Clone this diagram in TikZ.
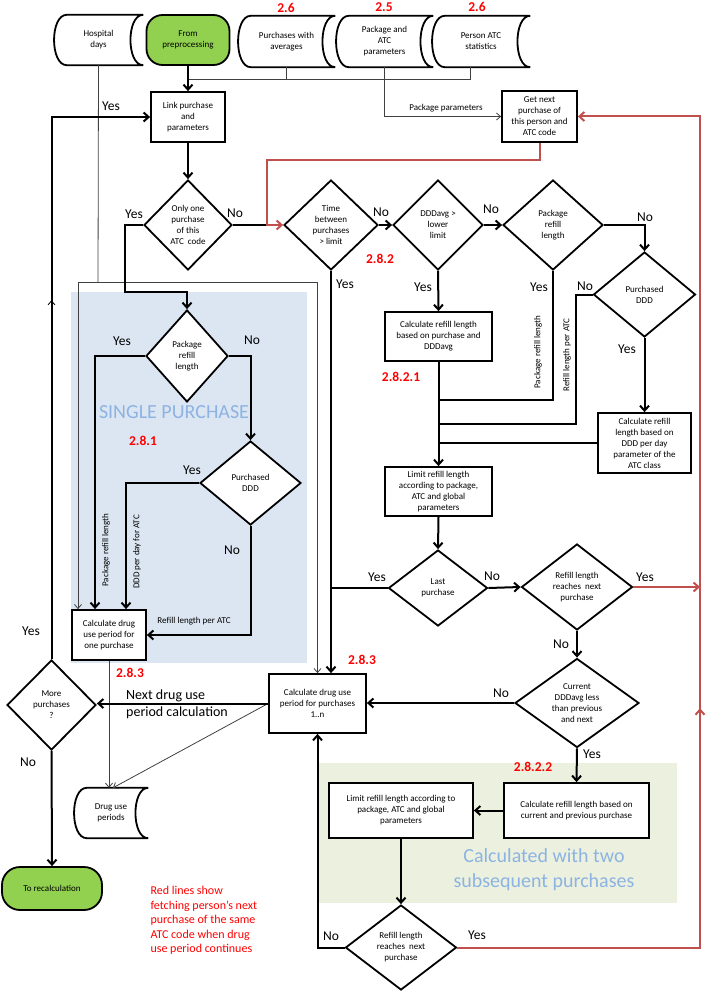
\documentclass[tikz,border=0pt]{standalone}
\usepackage{fontspec}
\setmainfont{Carlito}
\usetikzlibrary{arrows.meta,shapes.geometric,decorations.markings}

\definecolor{termgreen}{RGB}{146,208,80}
\definecolor{linered}{RGB}{192,80,77}
\definecolor{bluebg}{RGB}{220,230,242}
\definecolor{greenbg}{RGB}{235,241,222}
\definecolor{bluetext}{RGB}{141,179,226}

\newcommand\bxfont{\fontsize{9}{11}\selectfont}
\newcommand\ynfont{\fontsize{13.5}{15}\selectfont}
\newcommand\secfont{\fontsize{13.5}{15}\selectfont\bfseries}

\tikzset{
  box/.style={draw, line width=1.8pt, fill=white, align=center, inner sep=1pt, font=\bxfont},
  decision/.style={diamond, draw, line width=1.8pt, fill=white, align=center, inner sep=0pt, font=\bxfont},
  store/.style={align=center, inner sep=0pt, font=\bxfont},
  term/.style={draw, line width=1.8pt, rounded corners=16pt, fill=termgreen, align=center, font=\bxfont},
  flow/.style={line width=2pt},
  thinflow/.style={line width=0.8pt, draw=black!75, >={Straight Barb[length=4pt,width=7pt]}},
  redflow/.style={line width=2pt, draw=linered},
  yn/.style={font=\ynfont},
  secnum/.style={text=red, font=\secfont},
  region/.style={text=bluetext, align=center, font=\fontsize{20}{25}\selectfont},
  smalltext/.style={font=\bxfont},
}

\begin{document}
\begin{tikzpicture}[x=1pt,y=-1pt,>={Straight Barb[length=5pt,width=9pt]}]
    \useasboundingbox (0,0) rectangle (705,992);

    % shaded regions
    \fill[bluebg] (71,292) rectangle (307,663);
    \fill[greenbg] (318,763) rectangle (677,903);
    \node[region] (singletxt) at (174,412) {SINGLE PURCHASE};
    \node[region] (twotxt) at (544,870) {Calculated with two\\subsequent purchases};

    % data stores and start on top
    \node[store, minimum width=89pt, minimum height=50pt] (hosp) at (98.5,40) {Hospital\\days};
    \node[term, minimum width=83pt, minimum height=50pt] (prep) at (188,40) {From\\preprocessing};
    \node[store, minimum width=97pt, minimum height=51pt] (avg) at (286.5,41.5) {Purchases with\\averages};
    \node[store, minimum width=97pt, minimum height=51pt] (pkg) at (384.5,41.5) {Package and\\ATC\\parameters};
    \node[store, minimum width=98pt, minimum height=51pt] (pers) at (481,41.5) {Person ATC\\statistics};
    \node[store, minimum width=74pt, minimum height=50pt] (dup) at (111,813) {Drug use\\periods};
    \foreach \s in {hosp,avg,pkg,pers,dup}
        \draw[line width=1.8pt] ([xshift=13pt]\s.north west) -- (\s.north east)
            .. controls +(-17,0) and +(-17,0) .. (\s.south east)
            -- ([xshift=13pt]\s.south west)
            .. controls +(-17,0) and +(-17,0) .. ([xshift=13pt]\s.north west) -- cycle;

    % process boxes
    \node[box, minimum width=74pt, minimum height=50pt] (link) at (188,117) {Link purchase\\and\\parameters};
    \node[box, minimum width=75pt, minimum height=51pt] (getnext) at (539.5,116.5) {Get next\\purchase of\\this person and\\ATC code};
    \node[box, minimum width=107pt, minimum height=49pt] (crp) at (438.5,336.5) {Calculate refill length\\based on purchase and\\DDDavg};
    \node[box, minimum width=93pt, minimum height=60pt] (cddd) at (644.5,443) {Calculate refill\\length based on\\DDD per day\\parameter of the\\ATC class};
    \node[box, minimum width=107pt, minimum height=49pt] (lim1) at (438.5,491.5) {Limit refill length\\according to package,\\ATC and global\\parameters};
    \node[box, minimum width=145pt, minimum height=55pt] (ccp) at (576.5,810.5) {Calculate refill length based on\\current and previous purchase};
    \node[box, minimum width=144pt, minimum height=55pt] (lim2) at (401,810.5) {Limit refill length according to\\package, ATC and global\\parameters};
    \node[box, minimum width=97pt, minimum height=59pt] (calcn) at (317.5,703.5) {Calculate drug use\\period for purchases\\1..n};
    \node[box, minimum width=74pt, minimum height=50pt] (calc1) at (109,635) {Calculate drug\\use period for\\one purchase};
    \node[term, minimum width=100pt, minimum height=43pt, rounded corners=18pt] (recalc) at (52,888.5) {To recalculation};

    % decisions
    \node[decision, minimum width=88pt, minimum height=90pt] (one) at (188,225) {Only one\\purchase\\of this\\ATC~~code};
    \node[decision, minimum width=94pt, minimum height=90pt] (timeb) at (331,225) {Time\\between\\purchases\\> limit};
    \node[decision, minimum width=90pt, minimum height=90pt] (dddavg) at (438,225) {DDDavg >\\lower\\limit};
    \node[decision, minimum width=100pt, minimum height=90pt] (pkgr) at (553,225) {Package\\refill\\length};
    \node[decision, minimum width=102pt, minimum height=85pt] (pddr) at (644.5,294.5) {Purchased\\DDD};
    \node[decision, minimum width=99pt, minimum height=76pt] (last) at (438,588) {Last\\purchase};
    \node[decision, minimum width=111pt, minimum height=86pt] (reach1) at (577,587) {Refill length\\reaches~~next\\purchase};
    \node[decision, minimum width=124pt, minimum height=78pt] (cur) at (577,703) {Current\\DDDavg less\\than previous\\and next};
    \node[decision, minimum width=111pt, minimum height=85pt] (reach2) at (401,947.5) {Refill length\\reaches~~next\\purchase};
    \node[decision, minimum width=89pt, minimum height=90pt] (more) at (51.5,705) {More\\purchases\\?};
    \node[decision, minimum width=82pt, minimum height=92pt] (pkgl) at (187,356) {Package\\refill\\length};
    \node[decision, minimum width=101pt, minimum height=84pt] (pddl) at (250.5,483) {Purchased\\DDD};

    % bends and joints
    \coordinate (barl) at (188,79);
    \coordinate (barr) at (470,79);
    \coordinate (hbar) at (98,282);
    \coordinate (redin) at (267,225);
    \coordinate (redbend) at (267,160);
    \coordinate (yesbend) at (125,292);
    \coordinate (j1) at (438.5,400);
    \coordinate (j2) at (438.5,424);
    \coordinate (redtop) at (700,116.5);

    % inputs from the data stores
    \draw[thinflow] (barl) -- (barr) -- (barr |- pers.south);
    \draw[thinflow] (avg.south) -- (avg.south |- barl);
    \draw[flow,->] (prep.south) -- (link.north);
    \draw[thinflow,->] (pkg.south) |- (getnext.west);
    \draw[thinflow] (hosp.south) -- (hbar);
    \draw[thinflow,->] (hbar) -| ([xshift=-31pt]calc1.north);
    \draw[thinflow,->] (hbar) -| (calcn.north);

    % main flow
    \draw[flow,->] (link.south) -- (one.north);
    \draw[flow] (one.east) -- (redin);
    \draw[flow,->] (one.west) -| (yesbend) -| (pkgl.north);
    \draw[flow,->] (timeb.east) -- (dddavg.west);
    \draw[flow,->] (dddavg.east) -- (pkgr.west);
    \draw[flow,->] (pkgr.east) -| (pddr.north);
    \draw[flow,->] (timeb.south) -- (timeb.south |- calcn.north);
    \draw[flow,->] (dddavg.south) -- (crp.north);
    \draw[flow] (pkgr.south) |- (j1);
    \draw[flow] (pddr.west) -- ++(-17,0) |- (j2);
    \draw[flow] (cddd.west) -- (cddd.west -| j1);
    \draw[flow,->] (pddr.south) -- (cddd.north);
    \draw[flow,->] (crp.south) -- (lim1.north);
    \draw[flow,->] (lim1.south) -- (last.north);
    \draw[flow] (last.west) -- (last.west -| timeb.south);
    \draw[flow,->] (last.east) -- (reach1.west);
    \draw[flow,->] (reach1.south) -- (cur.north);
    \draw[flow,->] (cur.west) -- (cur.west -| calcn.east);
    \draw[flow,->] (cur.south) -- (ccp.north);
    \draw[flow,->] (ccp.west) -- (lim2.east);
    \draw[flow,->] (lim2.south) -- (reach2.north);
    \draw[flow,->] (reach2.west) -| (calcn.south);

    % single purchase
    \draw[flow,->] (pkgl.west) -| ([xshift=-14pt]calc1.north);
    \draw[flow,->] (pkgl.east) -| (pddl.north);
    \draw[flow,->] (pddl.west) -| ([xshift=17pt]calc1.north);
    \draw[flow,->] (pddl.south) |- (calc1.east);

    % results and loop back
    \draw[thinflow,->] (calc1.south) -- (calc1.south |- dup.north);
    \draw[thinflow,->] (calcn.west) -- ([xshift=2pt]dup.north);
    \draw[flow,->] (calcn.west) -- (calcn.west -| more.east);
    \draw[flow,->] (more.south) -- (recalc.north);
    \draw[flow,->,postaction={decorate},decoration={markings,
        mark=at position 0.56 with {\arrow[line width=0.8pt]{Straight Barb[length=4pt,width=7pt]}}}]
        (more.north) |- (link.west);

    % red lines: fetch next purchase
    \draw[redflow,->] (getnext.south) |- (redbend) |- (timeb.west);
    \draw[redflow,->] (reach1.east) -- (reach1.east -| redtop);
    \draw[redflow,->,postaction={decorate},decoration={markings,
        mark=at position 0.403 with {\arrow{>}}}]
        (reach2.east) -| (redtop) -- (getnext.east);

    % connector labels
    \node[font=\fontsize{9}{11}\selectfont] (pkgpar) at (446,108) {Package parameters};
    \node[smalltext, rotate=90] (lblpr) at (538,352) {Package refill length};
    \node[smalltext, rotate=90] (lblrl) at (567,355) {Refill length per ATC};
    \node[smalltext, rotate=90] (lblpl) at (106,550) {Package refill length};
    \node[smalltext, rotate=90] (lbldd) at (137,552) {DDD per day for ATC};
    \node[smalltext] (lblrpa) at (194,621) {Refill length per ATC};
    \node[font=\fontsize{14}{17}\selectfont, align=left] (nextlbl) at (177,704) {Next drug use\\period calculation};

    % yes / no
    \node[yn] (yOne) at (134,214) {Yes};
    \node[yn] (nOne) at (235,213) {No};
    \node[yn] (nTime) at (381,212) {No};
    \node[yn] (yTime) at (345,284) {Yes};
    \node[yn] (nAvg) at (491,209) {No};
    \node[yn] (yAvg) at (423,287) {Yes};
    \node[yn] (nPkgR) at (645,217) {No};
    \node[yn] (yPkgR) at (539,287) {Yes};
    \node[yn] (nPddR) at (585,286) {No};
    \node[yn] (yPddR) at (627,349) {Yes};
    \node[yn] (yPkgL) at (122,341) {Yes};
    \node[yn] (nPkgL) at (252,340) {No};
    \node[yn] (yPddL) at (192,470) {Yes};
    \node[yn] (nPddL) at (232,550) {No};
    \node[yn] (yLast) at (377,577) {Yes};
    \node[yn] (nLast) at (492,576) {No};
    \node[yn] (yReach1) at (645,577) {Yes};
    \node[yn] (nReach1) at (561,644) {No};
    \node[yn] (nCur) at (501,693) {No};
    \node[yn] (yCur) at (592,754) {Yes};
    \node[yn] (yReach2) at (477,935) {Yes};
    \node[yn] (nReach2) at (331,936) {No};
    \node[yn] (yMore) at (31,631) {Yes};
    \node[yn] (yLink) at (111,106) {Yes};
    \node[yn] (nMore) at (28,762) {No};

    % section numbers
    \node[secnum] (s26a) at (286,8) {2.6};
    \node[secnum] (s25) at (384,7) {2.5};
    \node[secnum] (s26b) at (477,7) {2.6};
    \node[secnum] (s282) at (380,259) {2.8.2};
    \node[secnum] (s2821) at (401,377) {2.8.2.1};
    \node[secnum] (s281) at (143,441) {2.8.1};
    \node[secnum] (s283a) at (130,673) {2.8.3};
    \node[secnum] (s283b) at (362,660) {2.8.3};
    \node[secnum] (s2822) at (533,767) {2.8.2.2};

    % note
    \node[anchor=north west, text=red, align=left, font=\fontsize{12}{14.5}\selectfont] (note) at (147,883)
        {Red lines show\\fetching person’s next\\purchase of the same\\ATC code when drug\\use period continues};
\end{tikzpicture}
\end{document}
